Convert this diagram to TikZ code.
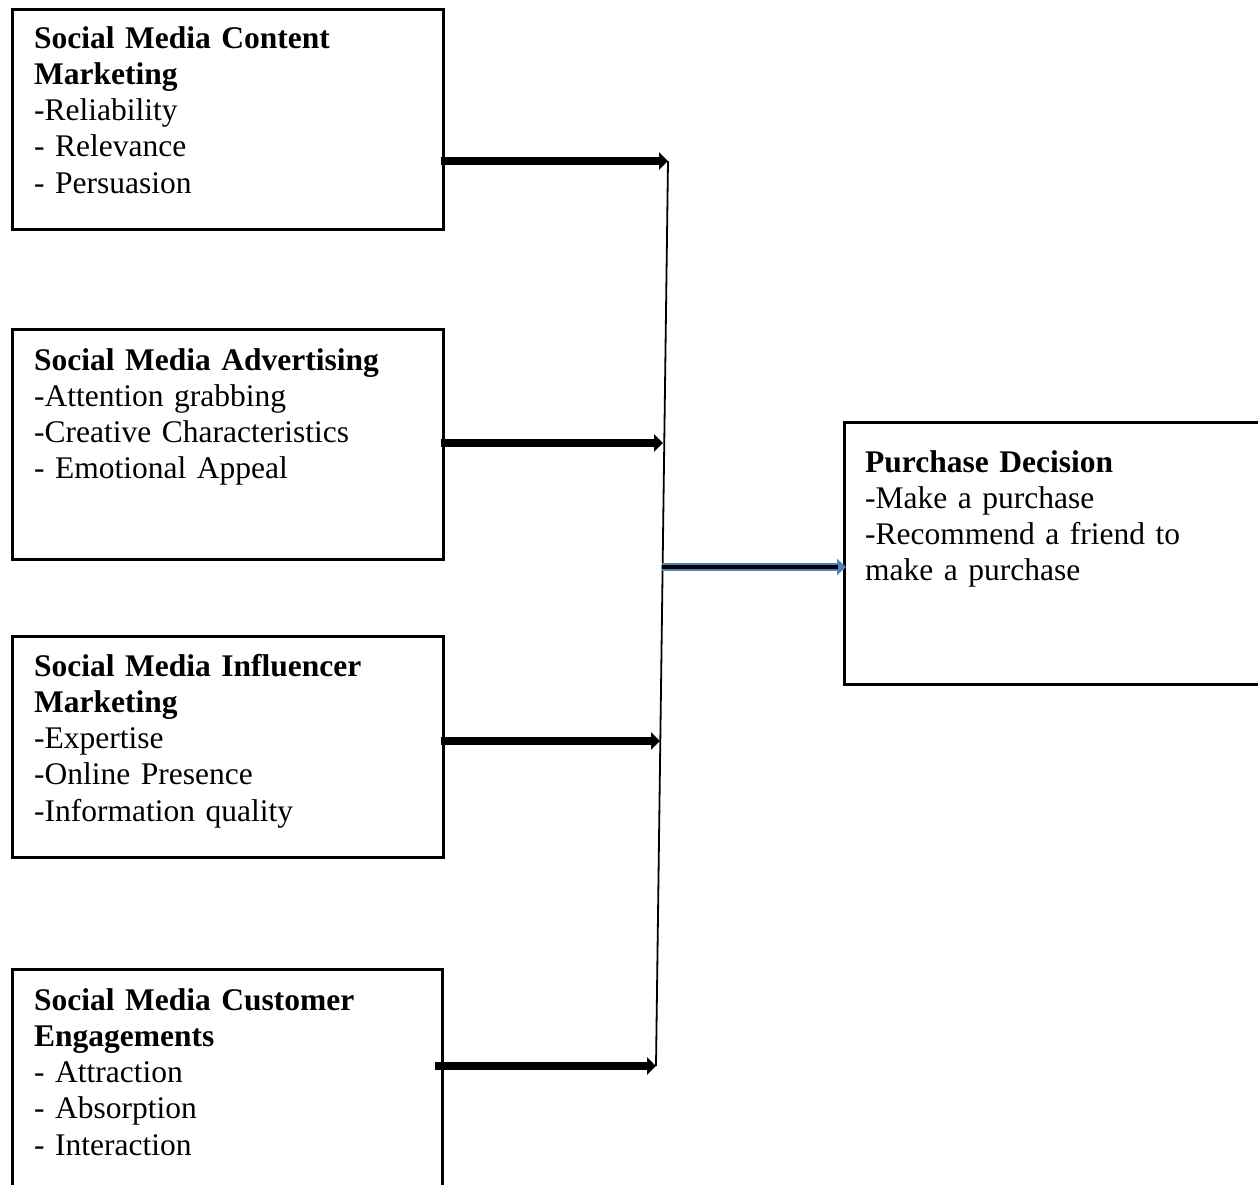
\documentclass[tikz,border=0pt]{standalone}
\usepackage{fontspec}
\setmainfont{Liberation Serif}
\usetikzlibrary{arrows.meta}
\definecolor{arrowblue}{HTML}{4F81BD}
\begin{document}
\begin{tikzpicture}[x=1pt,y=-1pt,
  boxstyle/.style={draw, line width=2.6pt, rectangle, inner sep=0pt, anchor=north west},
  txt/.style={anchor=base west, inner sep=0pt, text width=420pt, align=left,
    font=\fontsize{31.5}{36.3}\selectfont},
  thickarrow/.style={line width=8pt, -{Triangle[length=9pt,width=17pt]}},
  vline/.style={line width=1.8pt}
]
\useasboundingbox (0,0) rectangle (1258,1184);
\clip (0,0) rectangle (1258,1184);
% boxes
\node[boxstyle, minimum width=431pt, minimum height=220pt] (b1) at (11,8) {};
\node[boxstyle, minimum width=431pt, minimum height=230pt] (b2) at (11,328) {};
\node[boxstyle, minimum width=431pt, minimum height=221pt] (b3) at (11,635) {};
\node[boxstyle, minimum width=430pt, minimum height=260pt] (b4) at (11,968) {};
\node[boxstyle, minimum width=460pt, minimum height=262pt] (b5) at (843,421) {};
% texts
\node[txt] (t1) at (34,48) {\textbf{Social Media Content}\\\textbf{Marketing}\\-Reliability\\- Relevance\\- Persuasion};
\node[txt] (t2) at (34,370) {\textbf{Social Media Advertising}\\-Attention grabbing\\-Creative Characteristics\\- Emotional Appeal};
\node[txt] (t3) at (34,676) {\textbf{Social Media Influencer}\\\textbf{Marketing}\\-Expertise\\-Online Presence\\-Information quality};
\node[txt] (t4) at (34,1010) {\textbf{Social Media Customer}\\\textbf{Engagements}\\- Attraction\\- Absorption\\- Interaction};
\node[txt, text width=380pt] (t5) at (865,472) {\textbf{Purchase Decision}\\-Make a purchase\\-Recommend a friend to\\make a purchase};
% junction line
\coordinate (j1) at (668,161);
\coordinate (j2) at (663,443);
\coordinate (j3) at (660,741);
\coordinate (j4) at (656,1066);
\coordinate (s) at (662,567);
\draw[vline] (j1) -- (j4);
% arrows
\draw[thickarrow] ([xshift=-4pt]b1.east |- j1) -- (j1);
\draw[thickarrow] ([xshift=-4pt]b2.east |- j2) -- (j2);
\draw[thickarrow] ([xshift=-4pt]b3.east |- j3) -- (j3);
\draw[thickarrow] ([xshift=-9pt]b4.east |- j4) -- (j4);
\draw[line width=8pt, arrowblue, -{Triangle[length=9pt,width=16pt]}] (s) -- ([xshift=3pt]b5.west |- s);
\draw[line width=3.5pt, black, shorten >=8pt] (s) -- ([xshift=3pt]b5.west |- s);
\end{tikzpicture}
\end{document}
